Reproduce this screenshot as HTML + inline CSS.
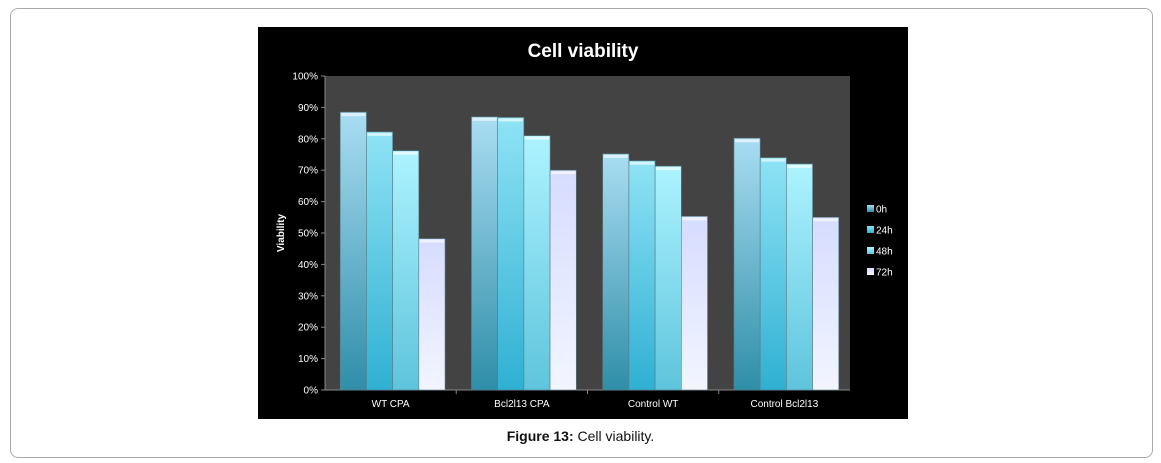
<!DOCTYPE html>
<html><head><meta charset="utf-8"><style>
body{margin:0;width:1161px;height:463px;background:#fff;font-family:"Liberation Sans",sans-serif;position:relative;overflow:hidden}
#frame{position:absolute;left:10px;top:8px;width:1141px;height:448px;border:1px solid #aaa;border-radius:8px}
#cap{position:absolute;left:0;width:1161px;top:428px;text-align:center;font-size:14px;color:#111}
</style></head><body>
<div id="frame"></div>
<svg id="chart" width="1161" height="463" style="position:absolute;left:0;top:0">
<defs>
<linearGradient id="g0" x1="0" y1="0" x2="0" y2="1"><stop offset="0" stop-color="#a9ddf2"/><stop offset="1" stop-color="#2f8ea8"/></linearGradient>
<linearGradient id="g1" x1="0" y1="0" x2="0" y2="1"><stop offset="0" stop-color="#8fe3f5"/><stop offset="1" stop-color="#2fb0d2"/></linearGradient>
<linearGradient id="g2" x1="0" y1="0" x2="0" y2="1"><stop offset="0" stop-color="#adf3ff"/><stop offset="1" stop-color="#5ec4dc"/></linearGradient>
<linearGradient id="g3" x1="0" y1="0" x2="0" y2="1"><stop offset="0" stop-color="#d6dcff"/><stop offset="1" stop-color="#f2f5ff"/></linearGradient>
</defs>
<rect x="258" y="27" width="650" height="392" fill="#000"/>
<text x="583" y="57" fill="#fff" font-size="19" font-weight="bold" text-anchor="middle">Cell viability</text>
<rect x="325" y="76" width="525" height="314" fill="#434343"/>
<text transform="translate(284,233) rotate(-90)" fill="#fff" font-size="10" font-weight="bold" text-anchor="middle">Viability</text>
<g id="ticks"></g><g id="bars"></g><g id="legend"></g>
</svg>
<div id="cap"><b>Figure 13:</b> Cell viability.</div>
<script>
const categories=["WT CPA","Bcl2l13 CPA","Control WT","Control Bcl2l13"];
const seriesNames=["0h","24h","48h","72h"];
const s0h=[88.5,87,75.2,80.2];
const s24h=[82.2,86.8,73,74];
const s48h=[76.2,81,71.3,72];
const s72h=[48.2,70,55.3,55];
const yTicks=[0,10,20,30,40,50,60,70,80,90,100];
const series=[s0h,s24h,s48h,s72h];
const NS="http://www.w3.org/2000/svg";
const X0=325,X1=850,Y0=390,Y1=76;
const y=v=>Y0-(v/100)*(Y0-Y1);
const gw=(X1-X0)/categories.length;
const bw=26.2,pad=(gw-4*bw)/2+2;
function mk(t,a,p){const e=document.createElementNS(NS,t);for(const k in a)e.setAttribute(k,a[k]);p.appendChild(e);return e;}
const tg=document.getElementById('ticks');
const ax=mk('line',{x1:X0,y1:Y0,x2:X0,y2:Y1,stroke:'#888'},tg);


const bx=mk('line',{x1:X0,y1:Y0,x2:X1,y2:Y0,stroke:'#888'},tg);


yTicks.forEach(v=>{
 mk('line',{x1:X0-4,x2:X0,y1:y(v),y2:y(v),stroke:'#888'},tg);
 const t=mk('text',{x:X0-7,y:y(v)+3.5,fill:'#fff','font-size':10,'text-anchor':'end'},tg);
 t.textContent=v+'%';
 
 
});
const bg=document.getElementById('bars');
categories.forEach((c,i)=>{
 const gx=X0+i*gw;
 if(i>0)mk('line',{x1:gx,x2:gx,y1:Y0,y2:Y0+4,stroke:'#888'},tg);
 const t=mk('text',{x:gx+gw/2,y:Y0+17,fill:'#fff','font-size':10,'text-anchor':'middle'},tg);
 t.textContent=c;
 
 
 series.forEach((s,j)=>{
  const bx=gx+pad+j*bw, top=y(s[i]);
  const r=mk('rect',{x:bx,y:top,width:bw,height:Y0-top,fill:'url(#g'+j+')',stroke:'#5a7d8a','stroke-width':0.6},bg);
  
  
  mk('rect',{x:bx+1,y:top+1,width:bw-2,height:3,fill:'#fff',opacity:0.6},bg);
 });
});
const lg=document.getElementById('legend');
seriesNames.forEach((n,j)=>{
 const ly=209+j*21;
 const sw=mk('rect',{x:867,y:ly-4,width:7,height:7,fill:'url(#g'+j+')'},lg);
 
 
 const t=mk('text',{x:876,y:ly+3.5,fill:'#fff','font-size':10},lg);
 t.textContent=n;
 
 
});
</script>
</body></html>
